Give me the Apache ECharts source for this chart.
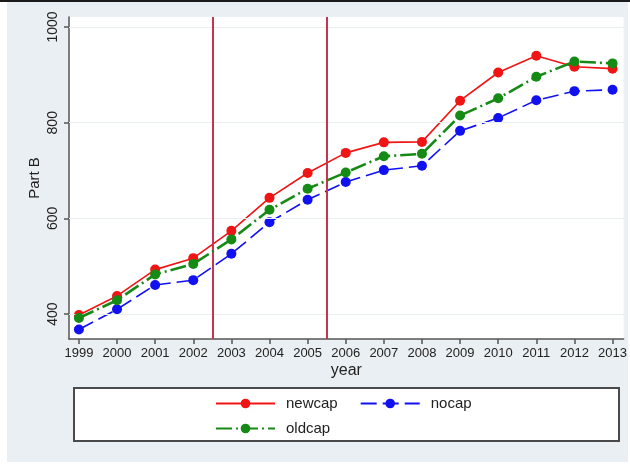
<!DOCTYPE html>
<html>
<head>
<meta charset="utf-8">
<script src="https://cdn.jsdelivr.net/npm/echarts@6/dist/echarts.min.js"></script>
<style>
  html, body { margin: 0; padding: 0; background: #ffffff; }
  #chart { width: 630px; height: 467px; }
</style>
</head>
<body>
<div id="chart"></div>
<script>
// Part B by year under three cap scenarios
const years = [1999, 2000, 2001, 2002, 2003, 2004, 2005, 2006, 2007, 2008, 2009, 2010, 2011, 2012, 2013];
const newcap = [398, 438, 493, 517, 574, 643, 695, 737, 759, 760, 846, 905, 940, 917, 913];
const nocap  = [368, 410, 461, 471, 526, 592, 639, 676, 701, 710, 783, 810, 847, 866, 869];
const oldcap = [392, 429, 483, 505, 556, 618, 662, 696, 730, 735, 815, 851, 896, 928, 924];
const yTicks = [400, 600, 800, 1000];
const policyBreaks = [2002.5, 2005.5];

const FONT = 'Liberation Sans, Arial, sans-serif';

function pairs(vals) {
  return years.map((y, i) => [y, vals[i]]);
}
const plain = v => String(Math.round(v));

const chart = echarts.init(document.getElementById('chart'), null, { renderer: 'canvas' });

const gridLines = yTicks.map(v => ({ yAxis: v, lineStyle: { color: '#e9eef1', width: 1, type: 'solid' } }));
const breakLines = policyBreaks.map(v => ({ xAxis: v, lineStyle: { color: '#c8344f', width: 2, type: 'solid' } }));

const legendText = { fontFamily: FONT, fontSize: 15, color: '#222', padding: [0, 0, 0, 6] };

chart.setOption({
  animation: false,
  backgroundColor: '#ffffff',
  graphic: [
    { type: 'rect', shape: { x: 7, y: 2, width: 621, height: 460 }, style: { fill: '#e9eff2' }, z: -10 },
    { type: 'rect', shape: { x: 0, y: 0, width: 630, height: 2 }, style: { fill: '#1a1a1a' }, z: -9 },
    { type: 'rect', shape: { x: 74, y: 388, width: 545, height: 53 }, style: { fill: '#ffffff', stroke: '#4a4a4a', lineWidth: 2 }, z: -5 }
  ],
  grid: {
    left: 69, top: 17, right: 5, bottom: 128,
    show: true, backgroundColor: '#ffffff', borderWidth: 0
  },
  legend: [
    {
      data: ['newcap', 'nocap'],
      left: 215, top: 396, padding: 0,
      itemWidth: 59, itemHeight: 12, itemGap: 22,
      textStyle: legendText
    },
    {
      data: ['oldcap'],
      left: 215, top: 421, padding: 0,
      itemWidth: 59, itemHeight: 12,
      textStyle: legendText
    }
  ],
  xAxis: {
    type: 'value',
    min: 1998.74, max: 2013.29,
    name: 'year', nameLocation: 'middle', nameGap: 24, nameMoveOverlap: false,
    nameTextStyle: { fontFamily: FONT, fontSize: 16, color: '#222' },
    axisLine: { show: true, lineStyle: { color: '#555', width: 1.5 } },
    axisTick: { show: true, length: 5, customValues: years, lineStyle: { color: '#555', width: 1.5 } },
    axisLabel: { customValues: years, formatter: plain, fontFamily: FONT, fontSize: 13, color: '#222', margin: 8 },
    splitLine: { show: false }
  },
  yAxis: {
    type: 'value',
    min: 348, max: 1021,
    name: 'Part B', nameLocation: 'middle', nameGap: 27, nameMoveOverlap: false,
    nameTextStyle: { fontFamily: FONT, fontSize: 15, color: '#222' },
    axisLine: { show: true, lineStyle: { color: '#555', width: 1.5 } },
    axisTick: { show: true, length: 5, customValues: yTicks, lineStyle: { color: '#555', width: 1.5 } },
    axisLabel: { customValues: yTicks, formatter: plain, rotate: 90, fontFamily: FONT, fontSize: 14, color: '#222', margin: 9 },
    splitLine: { show: false }
  },
  series: [
    {
      name: 'newcap', type: 'line', data: pairs(newcap),
      symbol: 'circle', symbolSize: 10,
      itemStyle: { color: '#f01414' },
      lineStyle: { color: '#f01414', width: 1.6, type: 'solid' },
      markLine: {
        silent: true, symbol: 'none', label: { show: false },
        data: gridLines.concat(breakLines)
      },
      z: 3
    },
    {
      name: 'nocap', type: 'line', data: pairs(nocap),
      symbol: 'circle', symbolSize: 10,
      itemStyle: { color: '#1010f0' },
      lineStyle: { color: '#1010f0', width: 1.6, type: [16, 6] },
      z: 4
    },
    {
      name: 'oldcap', type: 'line', data: pairs(oldcap),
      symbol: 'circle', symbolSize: 10,
      itemStyle: { color: '#158a15' },
      lineStyle: { color: '#158a15', width: 2.6, type: [16, 4, 2, 4] },
      z: 5
    }
  ]
});
</script>
</body>
</html>
